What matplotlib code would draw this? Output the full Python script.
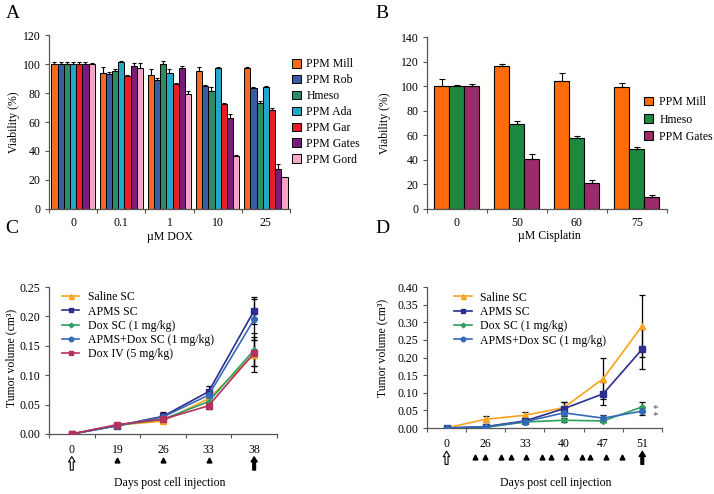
import matplotlib
matplotlib.use('agg')
import matplotlib.pyplot as plt
import numpy as np

plt.rcParams['font.family'] = ['Liberation Serif', 'DejaVu Serif']
plt.rcParams['font.size'] = 8.5

######## data ########
# panel A : viability vs DOX
dox_conc = ['0', '0.1', '1', '10', '25']
a_lines = ['PPM Mill', 'PPM Rob', 'Hmeso', 'PPM Ada', 'PPM Gar', 'PPM Gates', 'PPM Gord']
a_vals = [[100, 94, 92.4, 95.2, 97],
          [100, 93, 89, 84.8, 83.2],
          [100, 95.2, 99.8, 81.6, 73.3],
          [100, 101.6, 94, 97.5, 84],
          [100, 92, 86, 72.2, 68.3],
          [100, 98.9, 97.5, 62.5, 27.6],
          [100, 97, 79.5, 36.5, 21.8]]
a_err = [[1.5, 4, 4.5, 2.5, 1.2],
         [1.5, 1.5, 1.5, 0.7, 0.8],
         [1.5, 1.5, 2.5, 2.5, 1.3],
         [1.5, 0.8, 2.5, 0.8, 1],
         [1.5, 0.6, 0.6, 0.6, 1.3],
         [1.5, 1.5, 1.5, 3, 3.3],
         [1, 3.8, 2, 0.5, 0.5]]
a_colors = ['#F26B21', '#3B5BA5', '#2E8B63', '#22A7C8', '#EC1C24', '#7A1A7C', '#F3A7C8']

# panel B : viability vs cisplatin
cis_conc = ['0', '50', '60', '75']
b_lines = ['PPM Mill', 'Hmeso', 'PPM Gates']
b_vals = [[100, 116.5, 104.5, 99.5],
          [100, 69.2, 57.8, 49.2],
          [100, 41, 21, 10]]
b_err = [[5.5, 1.2, 6, 3],
         [0.7, 2.5, 1.5, 1.2],
         [1.5, 4, 2.5, 1]]
b_colors = ['#FF6A0A', '#1B8A3F', '#9A2C6B']

# panel C : tumour volume
c_days = ['0', '19', '26', '33', '38']
c_groups = ['Saline SC', 'APMS SC', 'Dox SC (1 mg/kg)', 'APMS+Dox SC (1 mg/kg)', 'Dox IV (5 mg/kg)']
c_vals = [[0, 0.015, 0.022, 0.060, 0.135],
          [0, 0.014, 0.030, 0.072, 0.210],
          [0, 0.015, 0.025, 0.055, 0.143],
          [0, 0.014, 0.029, 0.066, 0.195],
          [0, 0.016, 0.025, 0.048, 0.138]]
c_err = [[0, 0.003, 0.004, 0.008, 0.030],
         [0, 0.003, 0.007, 0.010, 0.023],
         [0, 0.003, 0.004, 0.007, 0.028],
         [0, 0.003, 0.005, 0.008, 0.035],
         [0, 0.003, 0.004, 0.006, 0.022]]
c_treat = [1.5, 2.5, 3.5]

# panel D : tumour volume
d_days = ['0', '26', '33', '40', '47', '51']
d_groups = ['Saline SC', 'APMS SC', 'Dox SC (1 mg/kg)', 'APMS+Dox SC (1 mg/kg)']
d_vals = [[0, 0.025, 0.036, 0.058, 0.140, 0.290],
          [0, 0.004, 0.020, 0.055, 0.097, 0.224],
          [0, 0.002, 0.017, 0.022, 0.020, 0.060],
          [0, 0.003, 0.018, 0.043, 0.028, 0.048]]
d_err = [[0, 0.008, 0.010, 0.015, 0.058, 0.088],
         [0, 0.004, 0.006, 0.018, 0.033, 0.058],
         [0, 0.002, 0.004, 0.006, 0.004, 0.015],
         [0, 0.002, 0.004, 0.010, 0.010, 0.010]]
d_treat = [1.22, 1.48, 1.88, 2.14, 2.52, 2.93, 3.18, 3.56, 3.96, 4.16, 4.57, 4.98]
d_star_y = 0.053   # middle of the two significance stars

line_colors = ['#F7A31C', '#2B2E8C', '#2DA160', '#3569B5', '#B4305E']
line_markers = ['^', 's', 'D', 'o', 's']
line_msize = [4.5, 4, 3, 4, 4]

spine_col = '#555555'

fig = plt.figure(figsize=(7.14, 4.94), dpi=100)

def style_axes(ax):
    for s in ['top', 'right']:
        ax.spines[s].set_visible(False)
    for s in ['left', 'bottom']:
        ax.spines[s].set_color(spine_col)
        ax.spines[s].set_linewidth(0.9)
    ax.tick_params(axis='y', direction='out', length=3, width=0.8, color=spine_col, pad=3)
    ax.tick_params(axis='x', which='major', length=0, pad=6)
    ax.tick_params(axis='x', which='minor', direction='out', length=3, width=0.8, color=spine_col)

def cat_axis(ax, labels):
    n = len(labels)
    ax.set_xlim(0, n)
    ax.set_xticks(np.arange(n) + 0.5)
    ax.set_xticklabels(labels)
    ax.set_xticks(np.arange(n + 1), minor=True)

######## A ########
axA = fig.add_axes([0.0686, 0.577, 0.3375, 0.352])
nb = len(a_lines)
bw = 0.9 / nb
for i in range(nb):
    xs = np.arange(len(dox_conc)) + 0.05 + bw * (i + 0.5)
    axA.bar(xs, a_vals[i], width=bw, color=a_colors[i], edgecolor='black', linewidth=0.7,
            label=a_lines[i])
    axA.errorbar(xs, a_vals[i], yerr=[np.zeros(len(xs)), a_err[i]], fmt='none',
                 ecolor='black', elinewidth=0.8, capsize=1.5, capthick=0.8)
axA.set_ylim(0, 120)
axA.set_yticks(np.arange(0, 121, 20))
cat_axis(axA, dox_conc)
style_axes(axA)
axA.set_xlabel('\u00b5M DOX')
axA.xaxis.set_label_coords(0.5, -0.16)
axA.xaxis.label.set_va('center')
axA.set_ylabel('Viability (%)')
axA.yaxis.set_label_coords(-0.145, 0.5)
axA.yaxis.label.set_va('center')
axA.legend(loc='upper left', bbox_to_anchor=(0.985, 0.9), frameon=False, borderpad=0,
           handlelength=0.75, handleheight=0.75, handletextpad=0.45, labelspacing=0.33,
           fontsize=8.5)
fig.text(0.008, 0.972, 'A', fontsize=14, va='center')

######## B ########
axB = fig.add_axes([0.598, 0.577, 0.336, 0.348])
nb = len(b_lines)
bw = 0.25
for i in range(nb):
    xs = np.arange(len(cis_conc)) + 0.125 + bw * (i + 0.5)
    axB.bar(xs, b_vals[i], width=bw, color=b_colors[i], edgecolor='black', linewidth=0.8,
            label=b_lines[i])
    axB.errorbar(xs, b_vals[i], yerr=[np.zeros(len(xs)), b_err[i]], fmt='none',
                 ecolor='black', elinewidth=0.8, capsize=2, capthick=0.8)
axB.set_ylim(0, 140)
axB.set_yticks(np.arange(0, 141, 20))
cat_axis(axB, cis_conc)
style_axes(axB)
axB.set_xlabel('\u00b5M Cisplatin')
axB.xaxis.set_label_coords(0.51, -0.16)
axB.xaxis.label.set_va('center')
axB.set_ylabel('Viability (%)')
axB.yaxis.set_label_coords(-0.175, 0.5)
axB.yaxis.label.set_va('center')
axB.legend(loc='upper left', bbox_to_anchor=(0.88, 0.69), frameon=False, borderpad=0,
           handlelength=0.75, handleheight=0.75, handletextpad=0.55, labelspacing=0.45,
           fontsize=8.5)
fig.text(0.526, 0.972, 'B', fontsize=14, va='center')

######## line panels ########
def arrow(ax, x, y0, y1, fill):
    ax.annotate('', xy=(x, y1), xytext=(x, y0),
                xycoords=ax.get_xaxis_transform(), textcoords=ax.get_xaxis_transform(),
                arrowprops=dict(arrowstyle='simple,head_width=0.55,head_length=0.45,tail_width=0.25',
                                fc=fill, ec='black', lw=0.8),
                annotation_clip=False)

def line_panel(ax, days, groups, vals, errs, treat, ymax, tri_y, arr_y):
    xs = np.arange(len(days)) + 0.5
    for i in range(len(groups)):
        ax.errorbar(xs, vals[i], yerr=errs[i], fmt='none', ecolor='black',
                    elinewidth=0.9, capsize=2, capthick=0.9, zorder=2)
    for i in range(len(groups)):
        ax.plot(xs, vals[i], color=line_colors[i], marker=line_markers[i],
                markersize=line_msize[i], linewidth=1.2, label=groups[i], zorder=3)
    ax.set_ylim(0, ymax)
    ax.set_yticks(np.arange(0, ymax + 0.001, 0.05))
    ax.yaxis.set_major_formatter(matplotlib.ticker.FormatStrFormatter('%.2f'))
    cat_axis(ax, days)
    style_axes(ax)
    ax.tick_params(axis='x', which='major', pad=7)
    ax.plot(treat, [tri_y] * len(treat), linestyle='none', marker='^', color='black',
            markersize=3.5, transform=ax.get_xaxis_transform(), clip_on=False)
    arrow(ax, xs[0], arr_y[1], arr_y[0], 'white')
    arrow(ax, xs[-1], arr_y[1], arr_y[0], 'black')
    ax.set_xlabel('Days post cell injection')
    ax.xaxis.label.set_va('center')
    ax.set_ylabel('Tumor volume (cm\u00b3)')
    ax.yaxis.label.set_va('center')

axC = fig.add_axes([0.0686, 0.1215, 0.3193, 0.2975])
line_panel(axC, c_days, c_groups, c_vals, c_err, c_treat, 0.25, -0.177, (-0.135, -0.265))
axC.xaxis.set_label_coords(0.53, -0.333)
axC.yaxis.set_label_coords(-0.167, 0.52)
axC.legend(loc='upper left', bbox_to_anchor=(0.03, 1.01), frameon=False, borderpad=0,
           handlelength=1.5, handletextpad=0.7, labelspacing=0.18, fontsize=8.5,
           markerscale=0.8)
fig.text(0.008, 0.537, 'C', fontsize=14, va='center')

axD = fig.add_axes([0.598, 0.1336, 0.329, 0.2854])
line_panel(axD, d_days, d_groups, d_vals, d_err, d_treat, 0.40, -0.205, (-0.145, -0.278))
axD.xaxis.set_label_coords(0.55, -0.39)
axD.yaxis.set_label_coords(-0.19, 0.57)
axD.legend(loc='upper left', bbox_to_anchor=(0.09, 1.01), frameon=False, borderpad=0,
           handlelength=1.5, handletextpad=0.7, labelspacing=0.2, fontsize=8.5,
           markerscale=0.8)
axD.annotate('*\n*', xy=(5.5, d_star_y), xytext=(7, -2), textcoords='offset points',
             fontsize=8, color='#555555', va='center', linespacing=0.8)
fig.text(0.526, 0.537, 'D', fontsize=14, va='center')

fig.savefig('out.png', dpi=100)
